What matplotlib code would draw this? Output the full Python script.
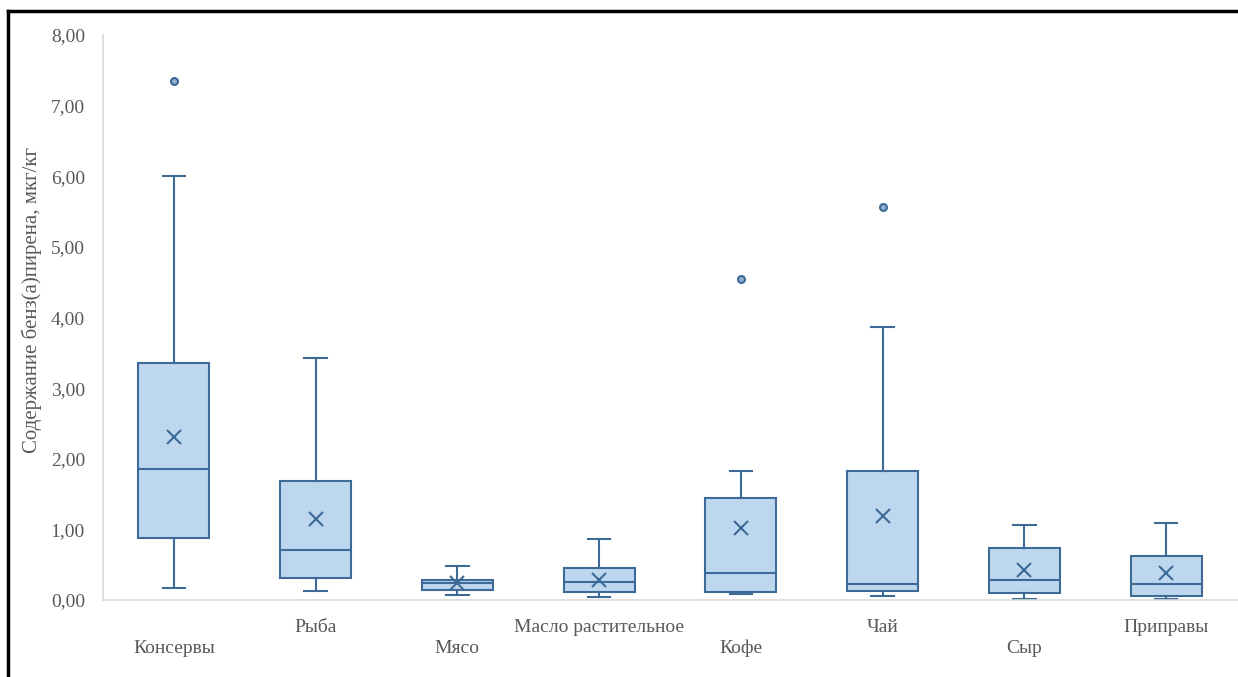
import matplotlib.pyplot as plt
from matplotlib.lines import Line2D

categories = ['Консервы', 'Рыба', 'Мясо', 'Масло растительное',
              'Кофе', 'Чай', 'Сыр', 'Приправы']
whisk_lo = [0.17, 0.13, 0.07, 0.04, 0.09, 0.05, 0.02, 0.02]
q1 = [0.88, 0.31, 0.14, 0.12, 0.11, 0.13, 0.10, 0.06]
median = [1.86, 0.71, 0.24, 0.25, 0.38, 0.23, 0.29, 0.23]
q3 = [3.36, 1.69, 0.29, 0.46, 1.44, 1.83, 0.73, 0.62]
whisk_hi = [6.00, 3.43, 0.48, 0.87, 1.82, 3.86, 1.06, 1.09]
mean = [2.31, 1.15, 0.24, 0.28, 1.02, 1.19, 0.42, 0.38]
outliers = [[7.35], [], [], [], [4.55], [5.57], [], []]

edge = '#3D6A96'
fill = '#BDD7EE'
grey = '#595959'
plt.rcParams['font.family'] = ['Liberation Serif', 'DejaVu Serif']

stats = []
for i in range(len(categories)):
    stats.append({'whislo': whisk_lo[i], 'q1': q1[i], 'med': median[i], 'q3': q3[i],
                  'whishi': whisk_hi[i], 'mean': mean[i], 'fliers': outliers[i]})

fig = plt.figure(figsize=(12.38, 6.77), dpi=100)
ax = fig.add_axes([0.0832, 0.1137, 0.9160, 0.8346])

pos = list(range(len(categories)))
ax.bxp(stats, positions=pos, widths=0.5, capwidths=0.16, showmeans=True,
       patch_artist=True,
       boxprops=dict(facecolor=fill, edgecolor=edge, linewidth=1.5),
       medianprops=dict(color=edge, linewidth=1.5),
       whiskerprops=dict(color=edge, linewidth=1.5),
       capprops=dict(color=edge, linewidth=1.5),
       meanprops=dict(marker='x', markeredgecolor=edge, markersize=10, markeredgewidth=1.5),
       flierprops=dict(marker='o', markerfacecolor='#8FB0D3', markeredgecolor=edge,
                       markersize=5, markeredgewidth=1.5))

ax.set_xlim(-0.5, 7.5)
ax.set_ylim(0, 8)
ax.set_yticks(range(9))
ax.set_yticklabels(['%d,00' % v for v in range(9)], fontsize=14, color=grey)
ax.set_xticks(pos)
ax.set_xticklabels([('\n' + c) if i % 2 == 0 else c for i, c in enumerate(categories)],
                   fontsize=14, color=grey, linespacing=1.25)
ax.tick_params(axis='both', length=0)
ax.tick_params(axis='y', pad=13)
ax.tick_params(axis='x', pad=14)
ax.set_ylabel('Содержание бенз(а)пирена, мкг/кг', fontsize=15, color=grey)
ax.yaxis.set_label_coords(-0.0538, 0.531)

for s in ['top', 'right']:
    ax.spines[s].set_visible(False)
for s in ['left', 'bottom']:
    ax.spines[s].set_color('#D9D9D9')
    ax.spines[s].set_linewidth(1.2)

# рамка скриншота сверху и слева
fig.add_artist(Line2D([8 / 1238, 8 / 1238], [0, 1 - 11 / 677], color='black', lw=2.5))
fig.add_artist(Line2D([8 / 1238, 1], [1 - 11 / 677, 1 - 11 / 677], color='black', lw=2.5))

fig.savefig('out.png', dpi=100)
